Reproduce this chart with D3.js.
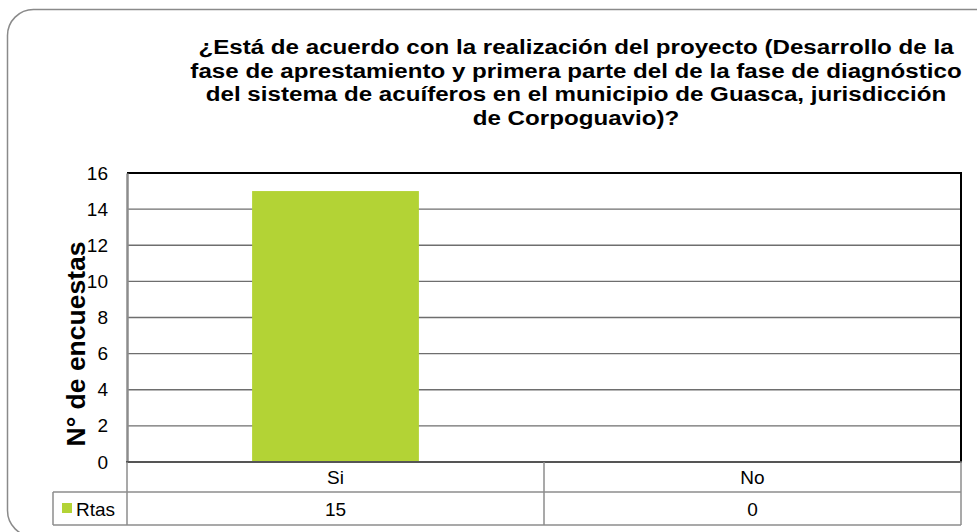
<!DOCTYPE html>
<html>
<head>
<meta charset="utf-8">
<style>
  body { margin: 0; background: #fff; }
  svg { display: block; font-family: "Liberation Sans", Arial, sans-serif; }
</style>
</head>
<body>
<svg id="chart" width="977" height="532"></svg>
<script src="https://d3js.org/d3.v7.min.js"></script>
<script>
// data
var categories = ["Si", "No"];
var rtas = [15, 0];
var seriesName = "Rtas";
var yTicks = [0, 2, 4, 6, 8, 10, 12, 14, 16];
var titleLines = [
  "¿Está de acuerdo con la realización del proyecto (Desarrollo de la",
  "fase de aprestamiento y primera parte del de la fase de diagnóstico",
  "del sistema de acuíferos en el municipio de Guasca, jurisdicción",
  "de Corpoguavio)?"
];
var yTitle = "N° de encuestas";

var svg = d3.select("#chart");

// outer rounded frame
svg.append("rect")
  .attr("x", 7.5).attr("y", 9.5)
  .attr("width", 1000).attr("height", 527)
  .attr("rx", 26)
  .attr("fill", "#fff")
  .attr("stroke", "#8a8a8a")
  .attr("stroke-width", 1.5);

// title (stretched horizontally a bit, like the original)
var titleCx = 576;
var title = svg.append("text")
  .attr("text-anchor", "middle")
  .attr("font-weight", "bold")
  .attr("font-size", 20)
  .attr("fill", "#000");
title.selectAll("tspan")
  .data(titleLines)
  .join("tspan")
  .attr("x", 0)
  .attr("y", function (d, i) { return 54 + i * 23.7; })
  .text(function (d) { return d; });
var w2 = title.selectAll("tspan").nodes()[1].getComputedTextLength();
var sx = 772 / w2;
title.attr("transform", "translate(" + titleCx + ",0) scale(" + sx + ",1)");

var plot = { left: 127, right: 961, top: 173, bottom: 462 };

var x = d3.scaleBand()
  .domain(categories)
  .range([plot.left, plot.right])
  .paddingInner(0.6)
  .paddingOuter(0.3);

// full-width category columns (for the table)
var xc = d3.scaleBand().domain(categories).range([plot.left, plot.right]);

var y = d3.scaleLinear().domain([0, 16]).range([plot.bottom, plot.top]);

// gridlines
svg.append("g")
  .selectAll("line")
  .data(yTicks.filter(function (t) { return t > 0 && t < 16; }))
  .join("line")
  .attr("x1", plot.left).attr("x2", plot.right)
  .attr("y1", function (d) { return y(d); })
  .attr("y2", function (d) { return y(d); })
  .attr("stroke", "#6e6e6e")
  .attr("stroke-width", 1.3);

// bars
svg.append("g")
  .selectAll("rect")
  .data(categories)
  .join("rect")
  .attr("x", function (d) { return x(d); })
  .attr("width", x.bandwidth())
  .attr("y", function (d, i) { return y(rtas[i]); })
  .attr("height", function (d, i) { return y(0) - y(rtas[i]); })
  .attr("fill", "#b3d335");

// plot border top/right
svg.append("path")
  .attr("d", "M" + plot.left + "," + plot.top + "H" + plot.right + "V" + plot.bottom)
  .attr("fill", "none")
  .attr("stroke", "#000")
  .attr("stroke-width", 2);

// y axis
var yAxis = svg.append("g")
  .attr("transform", "translate(" + plot.left + ",0)")
  .call(d3.axisLeft(y).tickValues(yTicks).tickSize(0).tickPadding(19));
yAxis.select(".domain").attr("stroke", "#8c8c8c").attr("stroke-width", 2.5);
yAxis.selectAll("text")
  .attr("font-size", 19)
  .attr("font-family", "Liberation Sans, Arial, sans-serif")
  .attr("fill", "#000");

// bottom axis line
svg.append("line")
  .attr("x1", plot.left - 1).attr("x2", plot.right + 1)
  .attr("y1", plot.bottom).attr("y2", plot.bottom)
  .attr("stroke", "#555")
  .attr("stroke-width", 2);

// y axis title
svg.append("text")
  .attr("transform", "translate(85,344) rotate(-90)")
  .attr("text-anchor", "middle")
  .attr("font-weight", "bold")
  .attr("font-size", 26.5)
  .attr("fill", "#000")
  .text(yTitle);

// data table
var row1 = { top: plot.bottom, bottom: 492 };
var row2 = { top: 492, bottom: 525 };
var legendLeft = 53;
var tbl = svg.append("g").attr("stroke", "#8c8c8c").attr("stroke-width", 1.5);

tbl.append("line").attr("x1", legendLeft).attr("x2", plot.right)
  .attr("y1", row2.top).attr("y2", row2.top);
tbl.append("line").attr("x1", legendLeft).attr("x2", plot.right)
  .attr("y1", row2.bottom).attr("y2", row2.bottom);
tbl.append("line").attr("x1", legendLeft).attr("x2", legendLeft)
  .attr("y1", row2.top).attr("y2", row2.bottom);

var edges = categories.map(function (c) { return xc(c); }).concat([plot.right]);
tbl.selectAll("line.v")
  .data(edges)
  .join("line")
  .attr("class", "v")
  .attr("x1", function (d) { return d; })
  .attr("x2", function (d) { return d; })
  .attr("y1", row1.top).attr("y2", row2.bottom);

svg.append("g")
  .selectAll("text")
  .data(categories)
  .join("text")
  .attr("x", function (d) { return xc(d) + xc.bandwidth() / 2; })
  .attr("y", (row1.top + row1.bottom) / 2 + 7)
  .attr("text-anchor", "middle")
  .attr("font-size", 19)
  .text(function (d) { return d; });

svg.append("g")
  .selectAll("text")
  .data(categories)
  .join("text")
  .attr("x", function (d) { return xc(d) + xc.bandwidth() / 2; })
  .attr("y", (row2.top + row2.bottom) / 2 + 7)
  .attr("text-anchor", "middle")
  .attr("font-size", 19)
  .text(function (d, i) { return rtas[i]; });

// legend key
svg.append("rect")
  .attr("x", 62).attr("y", 503)
  .attr("width", 10).attr("height", 10)
  .attr("fill", "#b3d335");
svg.append("text")
  .attr("x", 76)
  .attr("y", (row2.top + row2.bottom) / 2 + 7)
  .attr("font-size", 19)
  .text(seriesName);
</script>
</body>
</html>
